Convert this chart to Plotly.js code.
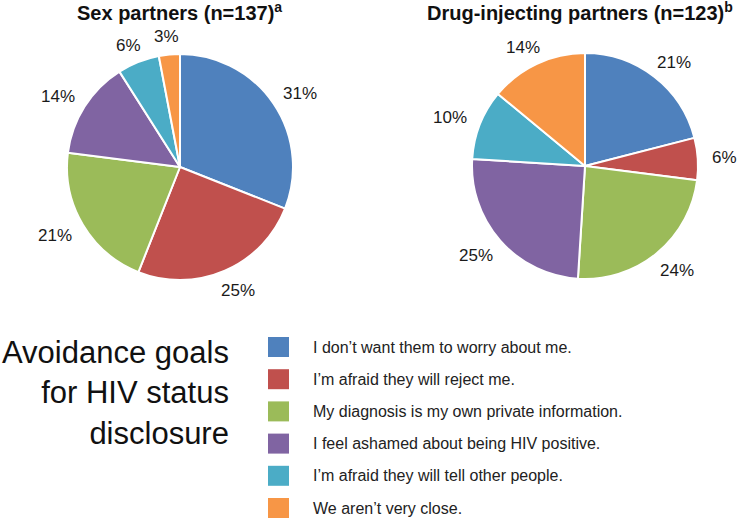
<!DOCTYPE html>
<html>
<head>
<meta charset="utf-8">
<script src="https://cdn.plot.ly/plotly-3.0.1.min.js"></script>
<style>
  html, body { margin: 0; padding: 0; background: #fff; }
  #chart { width: 740px; height: 522px; }
</style>
</head>
<body>
<div id="chart"></div>
<script>
// reasons for not disclosing, same order in both pies
const reasons = [
  "I don\u2019t want them to worry about me.",
  "I\u2019m afraid they will reject me.",
  "My diagnosis is my own private information.",
  "I feel ashamed about being HIV positive.",
  "I\u2019m afraid they will tell other people.",
  "We aren\u2019t very close."
];
const sexPartners = [31, 25, 21, 14, 6, 3];
const drugPartners = [21, 6, 24, 25, 10, 14];
const colors = ["#4F81BD", "#C0504D", "#9BBB59", "#8064A2", "#4BACC6", "#F79646"];

const W = 740, H = 522;
const FONT = "Liberation Sans, Arial, Helvetica, sans-serif";
// helpers: pixel -> paper coords
const px = x => x / W;
const py = y => 1 - y / H;

function pieTrace(values, cx, cy, r) {
  return {
    type: "pie",
    values: values,
    labels: reasons,
    sort: false,
    direction: "clockwise",
    rotation: 0,
    textinfo: "none",
    marker: { colors: colors, line: { color: "#ffffff", width: 2 } },
    hoverinfo: "label+value",
    showlegend: false,
    domain: { x: [px(cx - r), px(cx + r)], y: [py(cy + r), py(cy - r)] }
  };
}

// percent labels sit a bit outside the pie, on each slice's middle angle
function pieLabels(values, cx, cy, r) {
  const total = values.reduce((a, b) => a + b, 0);
  let cum = 0, out = [];
  values.forEach(v => {
    const mid = (cum + v / 2) / total * 2 * Math.PI;
    cum += v;
    const sx = Math.sin(mid), cs = Math.cos(mid);
    const hw = (String(v).length * 9.45 + 15.1) / 2;
    const hh = cs > 0 ? 3 : 7;
    const x = cx + (r + 15) * sx + hw * sx;
    const y = cy - (r + 15) * cs - hh * cs;
    out.push({
      text: v + "%", x: px(x), y: py(y), xref: "paper", yref: "paper",
      xanchor: "center", yanchor: "middle", showarrow: false,
      font: { family: FONT, size: 17, color: "#1a1a1a" }
    });
  });
  return out;
}

const data = [
  pieTrace(sexPartners, 180, 167, 113),
  pieTrace(drugPartners, 585, 166, 113)
];

const titleFont = { family: FONT, size: 20, color: "#111" };
let annotations = [
  { text: "<b>Sex partners (n=137)<sup>a</sup></b>", x: px(179), y: py(12),
    xref: "paper", yref: "paper", xanchor: "center", yanchor: "middle",
    showarrow: false, font: titleFont },
  { text: "<b>Drug-injecting partners (n=123)<sup>b</sup></b>", x: px(580), y: py(12),
    xref: "paper", yref: "paper", xanchor: "center", yanchor: "middle",
    showarrow: false, font: titleFont },
  { text: "Avoidance goals<br>for HIV status<br>disclosure", x: px(231), y: py(393),
    xref: "paper", yref: "paper", xanchor: "right", yanchor: "middle", align: "right",
    showarrow: false, font: { family: FONT, size: 31, color: "#111" } }
];
annotations = annotations
  .concat(pieLabels(sexPartners, 180, 167, 113))
  .concat(pieLabels(drugPartners, 585, 166, 113));

// hand-made legend: coloured squares with text
let shapes = [];
reasons.forEach((txt, i) => {
  const yc = 347 + i * 32.2;
  shapes.push({
    type: "rect", xref: "paper", yref: "paper",
    x0: px(268), x1: px(289), y0: py(yc + 10), y1: py(yc - 10),
    fillcolor: colors[i], line: { width: 0 }
  });
  annotations.push({
    text: txt, x: px(311), y: py(yc), xref: "paper", yref: "paper",
    xanchor: "left", yanchor: "middle", showarrow: false,
    font: { family: FONT, size: 16, color: "#222" }
  });
});

const layout = {
  width: W,
  height: H,
  margin: { l: 0, r: 0, t: 0, b: 0, pad: 0 },
  paper_bgcolor: "white",
  plot_bgcolor: "white",
  annotations: annotations,
  shapes: shapes
};

Plotly.newPlot("chart", data, layout, { displayModeBar: false, staticPlot: true });
</script>
</body>
</html>
